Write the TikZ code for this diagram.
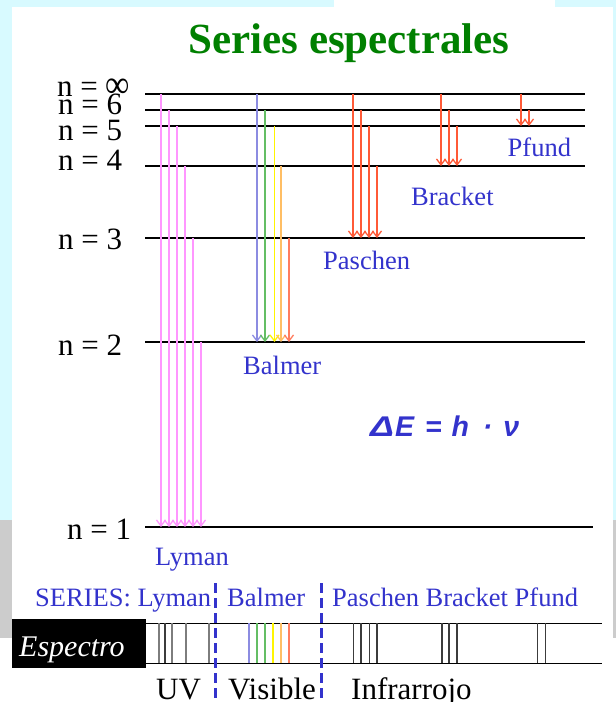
\documentclass[tikz,border=0pt]{standalone}
\usepackage{fontspec}
\setmainfont{Liberation Serif}
\newfontfamily\sansf{Liberation Sans}
\usetikzlibrary{arrows.meta}
\definecolor{bgcyan}{RGB}{216,250,255}
\definecolor{bggray}{RGB}{204,204,204}
\definecolor{lblue}{RGB}{51,51,204}
\definecolor{tgreen}{RGB}{0,128,0}
\definecolor{lypink}{RGB}{255,150,255}
\definecolor{bblue}{RGB}{140,140,225}
\definecolor{bgreen}{RGB}{100,190,100}
\definecolor{byellow}{RGB}{255,245,0}
\definecolor{borange}{RGB}{255,190,100}
\definecolor{bred}{RGB}{255,125,95}
\definecolor{ired}{RGB}{255,90,55}
\definecolor{sgray}{RGB}{125,125,125}
\definecolor{sdark}{RGB}{60,60,60}
\begin{document}
\begin{tikzpicture}[x=1pt,y=-1pt,
  lvl/.style={draw=black,line width=1.2pt},
  tr/.style={line width=1.3pt,-{Straight Barb[length=6pt,width=9pt]}},
  lbl/.style={text=lblue,font=\fontsize{26.5}{28}\selectfont,inner sep=0pt,anchor=base west},
  nlab/.style={font=\fontsize{31}{32}\selectfont,inner sep=0pt,anchor=base west},
  specline/.style={line width=1.3pt},
  sepline/.style={draw=lblue,line width=2.8pt,dash pattern=on 10pt off 5pt}]
% background
\useasboundingbox (0,0) rectangle (616,702);
\fill[bgcyan] (0,0) rectangle (616,520);
\fill[bggray] (0,520) rectangle (616,638);
\fill[white] (0,638) rectangle (616,702);
\fill[white] (12,7) rectangle (613,702);
\fill[white] (334,0) rectangle (555,7);
% title
\node[text=tgreen,font=\fontsize{43}{44}\selectfont\bfseries,inner sep=0pt,anchor=base] (title) at (349,53.3) {Series espectrales};
% levels
\coordinate (Linf) at (0,94);
\coordinate (L6) at (0,110);
\coordinate (L5) at (0,126);
\coordinate (L4) at (0,166);
\coordinate (L3) at (0,238);
\coordinate (L2) at (0,342);
\coordinate (L1) at (0,527);
\foreach \l in {Linf,L6,L5,L4,L3,L2} \draw[lvl] (145,0 |- \l) -- (585,0 |- \l);
\draw[lvl] (145,0 |- L1) -- (593,0 |- L1);
% level labels
\node[nlab] (ninf) at (57,96.7) {n = \raisebox{-1pt}{\scalebox{1.1}[1.25]{∞}}};
\node[nlab] (n6) at (58,114.3) {n = 6};
\node[nlab] (n5) at (58,140) {n = 5};
\node[nlab] (n4) at (58,170) {n = 4};
\node[nlab] (n3) at (58,249) {n = 3};
\node[nlab] (n2) at (58,355) {n = 2};
\node[nlab] (n1) at (67,539) {n = 1};
% Lyman
\foreach \x/\f in {161/Linf,169/L6,177/L5,185/L4,193/L3,201/L2}
  \draw[tr,lypink] (\x,0 |- \f) -- (\x,0 |- L1);
% Balmer
\foreach \x/\f/\c in {257/Linf/bblue,265/L6/bgreen,274.5/L5/byellow,281/L4/borange,289/L3/bred}
  \draw[tr,\c] (\x,0 |- \f) -- (\x,0 |- L2);
% Paschen
\foreach \x/\f in {353/Linf,361/L6,369/L5,377/L4}
  \draw[tr,ired] (\x,0 |- \f) -- (\x,0 |- L3);
% Brackett
\foreach \x/\f in {441/Linf,449/L6,457/L5}
  \draw[tr,ired] (\x,0 |- \f) -- (\x,0 |- L4);
% Pfund
\foreach \x/\f in {521/Linf,529/L6}
  \draw[tr,ired] (\x,0 |- \f) -- (\x,0 |- L5);
% series labels
\node[lbl] (lyman) at (155,565.7) {Lyman};
\node[lbl] (balmer) at (243,374) {Balmer};
\node[lbl] (paschen) at (323,269.3) {Paschen};
\node[lbl] (bracket) at (411,205) {Bracket};
\node[lbl] (pfund) at (507.5,156.7) {Pfund};
\node[text=lblue,font=\sansf\fontsize{28.5}{30}\selectfont\bfseries\itshape,inner sep=0pt,anchor=base west] (formula) at (370,436.5) {\scalebox{1.25}[1]{Δ}\kern1ptE\hspace{3pt} = \hspace{2pt}h\hspace{6pt} · \hspace{3pt}ν};
% SERIES line
\node[lbl] (sL) at (35,606) {SERIES: Lyman};
\node[lbl] (sB) at (227,606) {Balmer};
\node[lbl] (sP) at (332,606) {Paschen Bracket Pfund};
% spectrum
\fill[black] (12,619) rectangle (146,667.5);
\node[text=white,font=\fontsize{30}{31}\selectfont\itshape,inner sep=0pt,anchor=base west] (esp) at (19,656) {Espectro};
\coordinate (St) at (0,623.3);
\coordinate (Sb) at (0,663.3);
\draw[line width=1.3pt] (146,0 |- St) -- (601.7,0 |- St);
\draw[line width=1.3pt] (146,0 |- Sb) -- (601.7,0 |- Sb);
\foreach \x/\c in {159/sgray,165/sdark,172/sgray,186/sgray,209/sgray,
    249/bblue,257/bgreen,265/bgreen,273/byellow,281/borange,289/bred,
    353.5/sdark,361/sdark,369.5/sdark,377/sdark,442/sdark,449/sdark,457/sdark,537.5/sdark,545.5/sdark}
  \draw[specline,\c] (\x,0 |- St) -- (\x,0 |- Sb);
% separators
\draw[sepline] (215.5,583) -- (215.5,702);
\draw[sepline] (321.5,583) -- (321.5,702);
% region labels
\node[nlab] (uv) at (156,699) {UV};
\node[nlab] (vis) at (228,699) {Visible};
\node[nlab] (ir) at (351,699) {Infrarrojo};
\end{tikzpicture}
\end{document}
